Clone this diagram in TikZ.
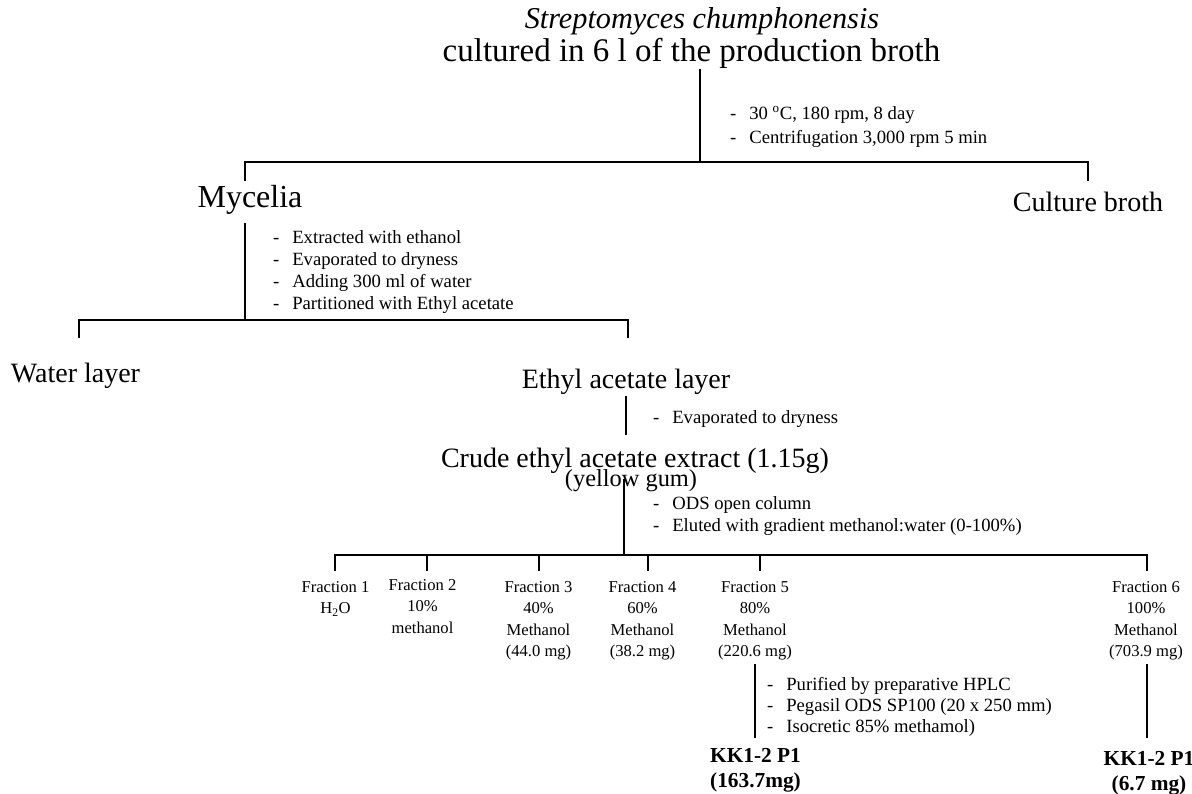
\documentclass[tikz,border=0pt]{standalone}
\usepackage{fontspec}
\setmainfont{Liberation Serif}
\newcommand{\fs}[2]{\fontsize{#1}{#2}\selectfont}
\newcommand{\dashitem}[1]{\makebox[14.5pt][l]{-}#1}
\begin{document}
\begin{tikzpicture}[x=0.75pt,y=-0.75pt,
  lbl/.style={inner sep=0pt,outer sep=0pt,anchor=base},
  note/.style={inner sep=0pt,outer sep=0pt,anchor=base west,font=\fs{14}{16.5}},
  frac/.style={inner sep=0pt,outer sep=0pt,anchor=base,font=\fs{12.45}{16.2}},
  res/.style={inner sep=0pt,outer sep=0pt,anchor=base,font=\fs{16}{18.75}\bfseries},
  conn/.style={line width=1pt,line cap=rect}]
\useasboundingbox (0,0) rectangle (1192,793);

% titles
\node[lbl,font=\fs{22.7}{26}\itshape] (title1) at (702,28) {Streptomyces chumphonensis};
\node[lbl,font=\fs{24.75}{28}] (title2) at (691.5,61) {cultured in 6 l of the production broth};

% first split
\coordinate (t0) at (700,70);
\coordinate (j1) at (700,162);
\coordinate (jm) at (245,162);
\coordinate (jb) at (1088,162);
\coordinate (m0) at (245,180);
\coordinate (b0) at (1088,180);
\draw[conn] (t0) -- (j1);
\draw[conn] (m0) -- (jm) -- (jb) -- (b0);
\node[note,font=\fs{14}{18}] (n1) at (730,119) {\begin{tabular}[t]{@{}l@{}}\dashitem{30 \textsuperscript{o}C, 180 rpm, 8 day}\\ \dashitem{Centrifugation 3,000 rpm 5 min}\end{tabular}};

\node[lbl,font=\fs{24}{28}] (myc) at (250,207) {Mycelia};
\node[lbl,font=\fs{21}{25}] (broth) at (1088,211) {Culture broth};

% mycelia split
\coordinate (m1) at (245,224);
\coordinate (j2) at (245,320);
\coordinate (jw) at (79,320);
\coordinate (je) at (628,320);
\coordinate (w0) at (79,337);
\coordinate (e0) at (628,337);
\draw[conn] (m1) -- (j2);
\draw[conn] (w0) -- (jw) -- (je) -- (e0);
\node[note] (n2) at (273,243) {\begin{tabular}[t]{@{}l@{}}\dashitem{Extracted with ethanol}\\ \dashitem{Evaporated to dryness}\\ \dashitem{Adding 300 ml of water}\\ \dashitem{Partitioned with Ethyl acetate}\end{tabular}};

\node[lbl,font=\fs{21}{25}] (water) at (75.5,382) {Water layer};
\node[lbl,font=\fs{21}{25}] (ethyl) at (626,388) {Ethyl acetate layer};

% ethyl acetate -> crude
\coordinate (e1) at (626,397);
\coordinate (e2) at (626,434);
\draw[conn] (e1) -- (e2);
\node[note] (n3) at (653,423.5) {\dashitem{Evaporated to dryness}};

\node[lbl,font=\fs{21}{25}] (crude) at (635,467) {Crude ethyl acetate extract (1.15g)};
\node[lbl,font=\fs{18.3}{20}] (gum) at (631,486) {(yellow gum)};

% crude -> fractions
\coordinate (c1) at (624,480);
\coordinate (j3) at (624,555);
\coordinate (jf1) at (335,555);
\coordinate (jf6) at (1147,555);
\coordinate (jf2) at (427,555);
\coordinate (jf3) at (539,555);
\coordinate (jf4) at (648,555);
\coordinate (jf5) at (760,555);
\draw[conn] (c1) -- (j3);
\draw[conn] (jf1) -- (jf6);
\foreach \k in {1,...,6} {\draw[conn] (jf\k) -- ++(0,15);}
\node[note,font=\fs{14}{17}] (n4) at (653,509) {\begin{tabular}[t]{@{}l@{}}\dashitem{ODS open column}\\ \dashitem{Eluted with gradient methanol:water (0-100\%)}\end{tabular}};

\node[frac] (f1) at (335.5,592) {\begin{tabular}[t]{@{}c@{}}Fraction 1\\ H\textsubscript{2}O\end{tabular}};
\node[frac] (f2) at (422.5,590) {\begin{tabular}[t]{@{}c@{}}Fraction 2\\ 10\%\\ methanol\end{tabular}};
\node[frac] (f3) at (538.5,592) {\begin{tabular}[t]{@{}c@{}}Fraction 3\\ 40\%\\ Methanol\\ (44.0 mg)\end{tabular}};
\node[frac] (f4) at (642.5,592) {\begin{tabular}[t]{@{}c@{}}Fraction 4\\ 60\%\\ Methanol\\ (38.2 mg)\end{tabular}};
\node[frac] (f5) at (755,592) {\begin{tabular}[t]{@{}c@{}}Fraction 5\\ 80\%\\ Methanol\\ (220.6 mg)\end{tabular}};
\node[frac] (f6) at (1146,592) {\begin{tabular}[t]{@{}c@{}}Fraction 6\\ 100\%\\ Methanol\\ (703.9 mg)\end{tabular}};

% fraction 5 and 6 -> products
\coordinate (p5a) at (755,665);
\coordinate (p5b) at (755,737);
\coordinate (p6a) at (1147,665);
\coordinate (p6b) at (1147,737);
\draw[conn] (p5a) -- (p5b);
\draw[conn] (p6a) -- (p6b);
\node[note,font=\fs{14}{16.1}] (n5) at (767,690) {\begin{tabular}[t]{@{}l@{}}\dashitem{Purified by preparative HPLC}\\ \dashitem{Pegasil ODS SP100 (20 x 250 mm)}\\ \dashitem{Isocretic 85\% methamol)}\end{tabular}};

\node[res] (kk1) at (755.5,762) {\begin{tabular}[t]{@{}l@{}}KK1-2 P1\\ (163.7mg)\end{tabular}};
\node[res] (kk2) at (1149,765) {\begin{tabular}[t]{@{}c@{}}KK1-2 P1\\ (6.7 mg)\end{tabular}};
\end{tikzpicture}
\end{document}
